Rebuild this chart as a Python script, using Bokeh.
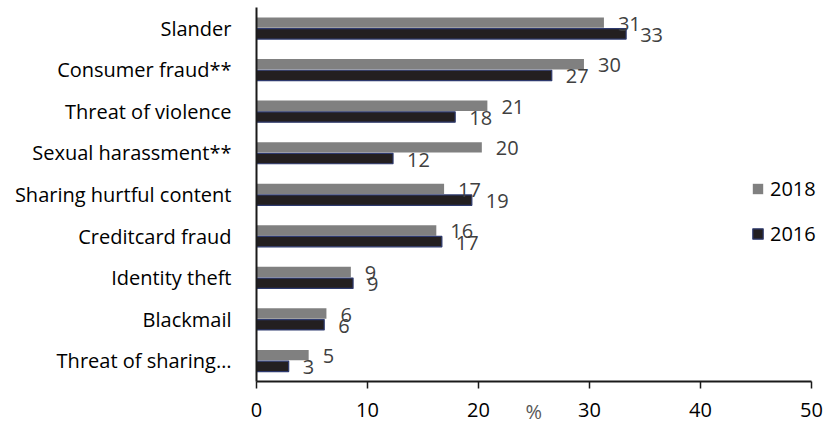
from bokeh.plotting import figure
from bokeh.models import FactorRange, Range1d, ColumnDataSource, Legend, LegendItem, FixedTicker
from bokeh.transform import dodge
from bokeh.core.properties import value
from bokeh.embed import file_html
from bokeh.resources import INLINE

categories = ["Slander", "Consumer fraud**", "Threat of violence", "Sexual harassment**",
              "Sharing hurtful content", "Creditcard fraud", "Identity theft", "Blackmail",
              "Threat of sharing\u2026"]
values_2018 = [31.3, 29.5, 20.8, 20.3, 16.9, 16.2, 8.5, 6.3, 4.7]
values_2016 = [33.3, 26.6, 17.9, 12.3, 19.4, 16.7, 8.7, 6.1, 2.9]
labels_2018 = ["31", "30", "21", "20", "17", "16", "9", "6", "5"]
labels_2016 = ["33", "27", "18", "12", "19", "17", "9", "6", "3"]
x_ticks = [0, 10, 20, 30, 40, 50]
x_max = 50

FONT = "Open Sans"
FS = "20px"
PX_PER_UNIT = 555 / 50

src = ColumnDataSource(dict(cat=categories, v18=values_2018, v16=values_2016,
                            l18=labels_2018, l16=labels_2016))

p = figure(y_range=FactorRange(factors=categories[::-1], range_padding=0),
           x_range=Range1d(0, x_max + 15 / PX_PER_UNIT),
           width=826, height=427,
           min_border_left=256, min_border_right=0, min_border_top=7, min_border_bottom=0,
           output_backend="svg", toolbar_location=None)

r18 = p.hbar(y=dodge("cat", 0.135, range=p.y_range), right="v18", left=0, height=0.25,
             source=src, fill_color="#808080", line_color=None)
r16 = p.hbar(y=dodge("cat", -0.135, range=p.y_range), right="v16", left=0, height=0.25,
             source=src, fill_color="#231F20", line_color="#2E3A6E", line_width=1.2)

p.text(x="v18", y=dodge("cat", 0.135, range=p.y_range), text="l18", source=src,
       x_offset=14, y_offset=1, text_align="left", text_baseline="middle",
       text_font=value(FONT), text_font_size=FS, text_color="#404040")
p.text(x="v16", y=dodge("cat", -0.135, range=p.y_range), text="l16", source=src,
       x_offset=14, y_offset=1, text_align="left", text_baseline="middle",
       text_font=value(FONT), text_font_size=FS, text_color="#404040")

p.grid.visible = False
p.outline_line_color = None
p.background_fill_color = "white"
p.border_fill_color = "white"

xa = p.xaxis[0]
xa.ticker = FixedTicker(ticks=x_ticks)
xa.bounds = (0, x_max)
xa.minor_tick_line_color = None
xa.major_tick_in = 0
xa.major_tick_out = 7
xa.major_tick_line_color = "#1a1a1a"
xa.major_tick_line_width = 1.5
xa.axis_line_color = "#1a1a1a"
xa.axis_line_width = 2
xa.major_label_text_font = FONT
xa.major_label_text_font_size = FS
xa.major_label_text_color = "black"
xa.major_label_standoff = 14
xa.axis_label = "%\u00a0\u00a0\u00a0"
xa.axis_label_text_font = FONT
xa.axis_label_text_font_size = FS
xa.axis_label_text_font_style = "normal"
xa.axis_label_text_color = "#595959"
xa.axis_label_standoff = -22

ya = p.yaxis[0]
ya.major_tick_line_color = None
ya.minor_tick_line_color = None
ya.axis_line_color = "#1a1a1a"
ya.axis_line_width = 2
ya.major_label_text_font = FONT
ya.major_label_text_font_size = FS
ya.major_label_text_color = "black"
ya.major_label_standoff = 19

legend = Legend(items=[LegendItem(label="2018", renderers=[r18]),
                       LegendItem(label="2016", renderers=[r16])],
                location=(495, 134), orientation="vertical",
                label_text_font=FONT, label_text_font_size=FS, label_text_color="black",
                glyph_width=13, glyph_height=13, label_standoff=6, spacing=18,
                padding=0, margin=0, border_line_color=None, background_fill_alpha=0)
p.add_layout(legend)

open("out.html", "w").write(file_html(p, INLINE))
